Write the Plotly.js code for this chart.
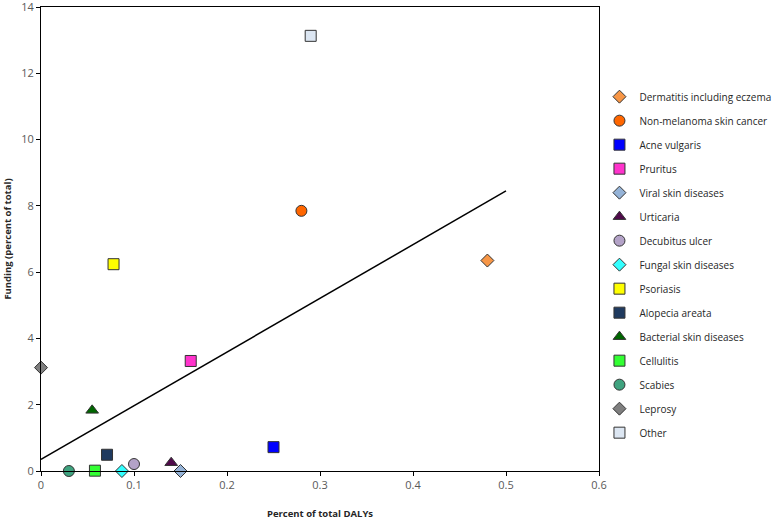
<!DOCTYPE html>
<html>
<head>
<meta charset="utf-8">
<script src="https://cdn.plot.ly/plotly-3.0.1.min.js"></script>
<style>html,body{margin:0;padding:0;background:#fff;}#chart{width:774px;height:521px;}</style>
</head>
<body>
<div id="chart"></div>
<script>
// Data
const diseases = ["Dermatitis including eczema","Non-melanoma skin cancer","Acne vulgaris","Pruritus","Viral skin diseases","Urticaria","Decubitus ulcer","Fungal skin diseases","Psoriasis","Alopecia areata","Bacterial skin diseases","Cellulitis","Scabies","Leprosy","Other"];
const dalys   = [0.48, 0.28, 0.25, 0.161, 0.15, 0.14, 0.10, 0.087, 0.078, 0.071, 0.055, 0.058, 0.03, 0.0, 0.29];
const funding = [6.35, 7.85, 0.72, 3.32, 0.0, 0.25, 0.21, 0.0, 6.24, 0.49, 1.83, 0.01, 0.0, 3.12, 13.13];
const symbols = ["diamond","circle","square","square","diamond","triangle-up","circle","diamond","square","square","triangle-up","square","circle","diamond","square"];
const colors  = ["#F79646","#FF6600","#0000FF","#FF33CC","#95B3D7","#4F0A4A","#B3A2C7","#33FFFF","#FFFF00","#1F3A5F","#006600","#33FF33","#3FA37F","#7F7F7F","#DCE6F2"];
const trendX = [0, 0.5];
const trendY = [0.35, 8.45];
const xTicks = [0, 0.1, 0.2, 0.3, 0.4, 0.5, 0.6];
const yTicks = [0, 2, 4, 6, 8, 10, 12, 14];

const sizeFor = s => s === "diamond" ? 10 : 11;

const traces = diseases.map((name, i) => ({
  type: "scatter",
  mode: "markers",
  name: name,
  legendgroup: "g" + i,
  x: [dalys[i]],
  y: [funding[i]],
  cliponaxis: false,
  marker: {symbol: symbols[i], color: colors[i], size: sizeFor(symbols[i]), line: {color: "#333333", width: 1}}
}));
traces.unshift({
  type: "scatter", mode: "lines", x: trendX, y: trendY, showlegend: false,
  line: {color: "#000000", width: 1.5}, hoverinfo: "skip"
});

const layout = {
  width: 774, height: 521,
  margin: {l: 41, r: 175, t: 7, b: 50},
  paper_bgcolor: "#ffffff", plot_bgcolor: "#ffffff",
  font: {family: "Open Sans, Liberation Sans, sans-serif", size: 11, color: "#595959"},
  showlegend: true,
  legend: {
    xref: "container", yref: "paper",
    x: 0.7745, xanchor: "left", y: 0.838, yanchor: "top",
    font: {size: 10, color: "#262626"},
    traceorder: "grouped", tracegroupgap: 5,
    itemwidth: 30, bgcolor: "rgba(0,0,0,0)"
  },
  xaxis: {
    range: [0, 0.6], tickvals: xTicks, ticktext: xTicks.map(String),
    showgrid: false, zeroline: false, showline: true, linecolor: "#000000", linewidth: 1,
    mirror: true, ticks: "outside", ticklen: 4, tickcolor: "#000000",
    tickfont: {size: 11, color: "#595959"},
    title: {text: "Percent of total DALYs", font: {size: 9.5, color: "#262626", weight: "bold"}, standoff: 19}
  },
  yaxis: {
    range: [0, 14.0001], tickvals: yTicks, ticktext: yTicks.map(String),
    showgrid: false, zeroline: false, showline: true, linecolor: "#000000", linewidth: 1,
    mirror: true, ticks: "outside", ticklen: 4, tickcolor: "#000000",
    tickfont: {size: 11, color: "#595959"}, ticklabeloverflow: "allow",
    title: {text: "Funding (percent of total)", font: {size: 9.5, color: "#262626", weight: "bold"}, standoff: 7}
  }
};

Plotly.newPlot("chart", traces, layout, {displayModeBar: false, staticPlot: true});
</script>
</body>
</html>
